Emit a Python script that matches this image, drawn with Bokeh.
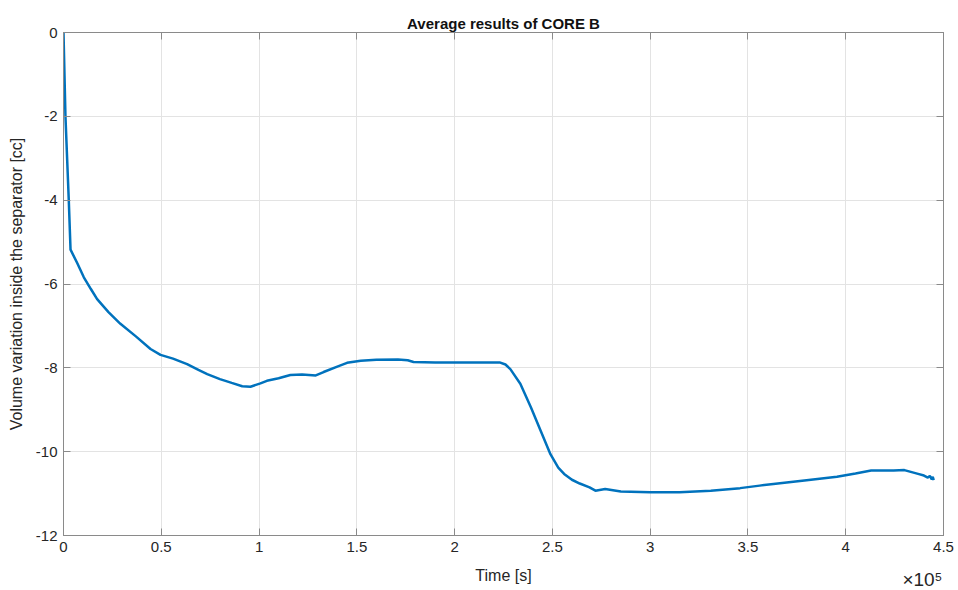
from bokeh.plotting import figure
from bokeh.models import LinearAxis, Range1d, FixedTicker, Title
from bokeh.embed import file_html
from bokeh.resources import INLINE

time_s = [0, 1000, 2700, 3600, 7000, 10400, 14000, 17200, 23000, 29100, 37000,
          44500, 49600, 56000, 63200, 69000, 73500, 80000, 86000, 91400, 95600,
          100700, 104000, 110000, 116000, 122000, 129000, 133000, 140000, 145000,
          152000, 160000, 171000, 176000, 179000, 190000, 200000, 213000, 223000,
          226000, 228500, 233600, 239000, 244000, 249000, 253000, 256000, 260000,
          264000, 269000, 272000, 277000, 285000, 300000, 315000, 331000, 346000,
          356000, 363000, 380000, 395500, 405000, 413000, 424500, 430000, 437000,
          440000, 442000, 443000, 444000, 444500, 445000]
volume_cc = [0.00, -2.00, -4.00, -5.18, -5.50, -5.84, -6.12, -6.36, -6.67, -6.95, -7.25,
             -7.55, -7.69, -7.78, -7.91, -8.05, -8.15, -8.27, -8.36, -8.44, -8.45,
             -8.37, -8.31, -8.25, -8.17, -8.16, -8.18, -8.10, -7.97, -7.88,
             -7.83, -7.81, -7.80, -7.82, -7.86, -7.87, -7.87, -7.87, -7.87,
             -7.92, -8.03, -8.38, -8.94, -9.50, -10.06, -10.38, -10.53, -10.67,
             -10.76, -10.85, -10.93, -10.89, -10.95, -10.97, -10.97, -10.93, -10.87,
             -10.81, -10.77, -10.68, -10.60, -10.52, -10.45, -10.45, -10.44, -10.53,
             -10.57, -10.62, -10.58, -10.66, -10.60, -10.68]

x_ticks = [0, 50000, 100000, 150000, 200000, 250000, 300000, 350000, 400000, 450000]
x_tick_labels = ["0", "0.5", "1", "1.5", "2", "2.5", "3", "3.5", "4", "4.5"]
y_ticks = [0, -2, -4, -6, -8, -10, -12]
y_tick_labels = ["0", "-2", "-4", "-6", "-8", "-10", "-12"]

FONT = "Liberation Sans"
TXT = "#262626"
AX = "#8a8a8a"

p = figure(width=958, height=590, output_backend="svg", toolbar_location=None,
           x_range=Range1d(0, 450000), y_range=Range1d(-12, 0),
           min_border_left=63, min_border_right=15, min_border_top=32,
           min_border_bottom=55)
p.title.text = "Average results of CORE B"
p.title.align = "center"
p.title.text_font = FONT
p.title.text_font_size = "15px"
p.title.text_font_style = "bold"
p.title.text_color = "#111111"
p.title.standoff = 2

p.outline_line_color = AX
p.background_fill_color = "white"
p.border_fill_color = "white"

p.xgrid.ticker = FixedTicker(ticks=x_ticks)
p.ygrid.ticker = FixedTicker(ticks=y_ticks)
p.grid.grid_line_color = "#e3e3e3"
p.grid.grid_line_width = 1

p.xaxis.ticker = FixedTicker(ticks=x_ticks)
p.xaxis.major_label_overrides = dict(zip(x_ticks, x_tick_labels))
p.yaxis.ticker = FixedTicker(ticks=y_ticks)
p.yaxis.major_label_overrides = dict(zip(y_ticks, y_tick_labels))
p.xaxis.axis_label = "Time [s]"
p.yaxis.axis_label = "Volume variation inside the separator [cc]"

for ax in (p.xaxis[0], p.yaxis[0]):
    ax.axis_line_color = AX
    ax.major_tick_line_color = AX
    ax.major_tick_in = 7
    ax.major_tick_out = 0
    ax.minor_tick_line_color = None
    ax.major_label_text_font = FONT
    ax.major_label_text_font_size = "15px"
    ax.major_label_text_color = TXT
    ax.axis_label_text_font = FONT
    ax.axis_label_text_font_size = "16px"
    ax.axis_label_text_font_style = "normal"
    ax.axis_label_text_color = TXT
p.xaxis.major_label_standoff = 6
p.xaxis.axis_label_standoff = 12
p.yaxis.major_label_standoff = 6
p.yaxis.axis_label_standoff = 8

top = LinearAxis(ticker=FixedTicker(ticks=x_ticks),
                 major_label_overrides={t: "" for t in x_ticks})
right = LinearAxis(ticker=FixedTicker(ticks=y_ticks),
                   major_label_overrides={t: "" for t in y_ticks})
for ax in (top, right):
    ax.axis_line_color = AX
    ax.major_tick_line_color = AX
    ax.major_tick_in = 7
    ax.major_tick_out = 0
    ax.minor_tick_line_color = None
    ax.major_label_standoff = 0
p.add_layout(top, "above")
p.add_layout(right, "right")

p.line(time_s, volume_cc, line_color="#0072BD", line_width=2.5)

p.add_layout(Title(text="×10⁵", align="right", vertical_align="top", standoff=-36,
                   offset=1, text_font=FONT, text_font_size="19px",
                   text_font_style="normal", text_color=TXT), "below")

open("out.html", "w").write(file_html(p, INLINE))
